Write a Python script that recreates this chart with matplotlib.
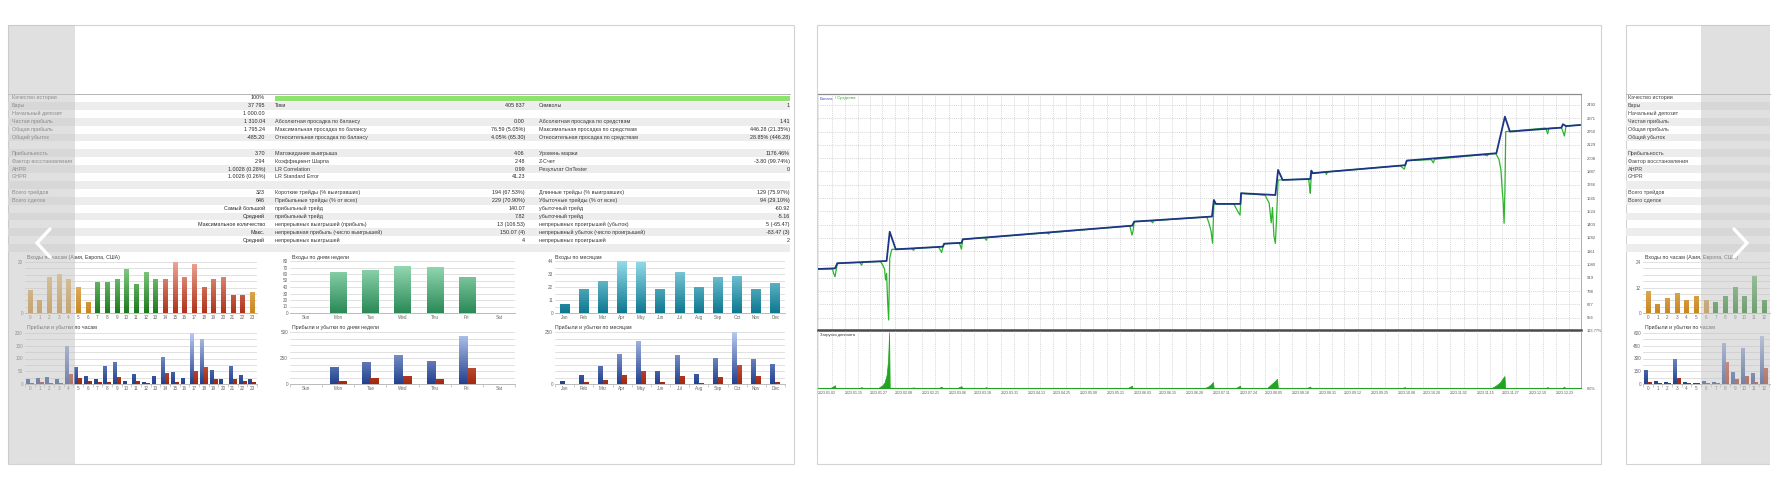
import datetime as dt
import numpy as np
import matplotlib.pyplot as plt
from matplotlib.colors import LinearSegmentedColormap
from matplotlib.patches import Rectangle

plt.rcParams['font.family'] = ['Liberation Sans', 'DejaVu Sans']

# ---------------- data ----------------
rows_a_labels = ['Качество истории', 'Бары', 'Начальный депозит', 'Чистая прибыль', 'Общая прибыль',
                 'Общий убыток', '', 'Прибыльность', 'Фактор восстановления', 'AHPR', 'GHPR', '',
                 'Всего трейдов', 'Всего сделок', '', '', '', '', '', '']
rows_a_values = ['100%', '37 795', '1 000.00', '1 310.04', '1 795.24', '-485.20', '', '3.70', '2.94',
                 '1.0028 (0.28%)', '1.0026 (0.26%)', '', '323', '646', 'Самый большой', 'Средний',
                 'Максимальное количество', 'Макс.', 'Средний', '']
rows_b_labels = ['', 'Тики', '', 'Абсолютная просадка по балансу', 'Максимальная просадка по балансу',
                 'Относительная просадка по балансу', '', 'Матожидание выигрыша', 'Коэффициент Шарпа',
                 'LR Correlation', 'LR Standard Error', '', 'Короткие трейды (% выигравших)',
                 'Прибыльные трейды (% от всех)', 'прибыльный трейд', 'прибыльный трейд',
                 'непрерывных выигрышей (прибыль)', 'непрерывная прибыль (число выигрышей)',
                 'непрерывных выигрышей', '']
rows_b_values = ['', '405 837', '', '0.00', '76.59 (5.05%)', '4.05% (65.30)', '', '4.06', '2.48', '0.99',
                 '41.23', '', '194 (67.53%)', '229 (70.90%)', '140.07', '7.82', '13 (106.53)',
                 '150.07 (4)', '4', '']
rows_c_labels = ['', 'Символы', '', 'Абсолютная просадка по средствам', 'Максимальная просадка по средствам',
                 'Относительная просадка по средствам', '', 'Уровень маржи', 'Z-Счет', 'Результат OnTester',
                 '', '', 'Длинные трейды (% выигравших)', 'Убыточные трейды (% от всех)', 'убыточный трейд',
                 'убыточный трейд', 'непрерывных проигрышей (убыток)', 'непрерывный убыток (число проигрышей)',
                 'непрерывных проигрышей', '']
rows_c_values = ['', '1', '', '1.41', '446.28 (21.35%)', '28.85% (446.28)', '', '1176.46%', '-3.80 (99.74%)',
                 '0', '', '', '129 (75.97%)', '94 (29.10%)', '-60.92', '-5.16', '5 (-65.47)', '-83.47 (3)',
                 '2', '']

hours = list(range(24))
hour_entries = [9, 5, 14, 15, 13, 10, 4, 12, 12, 13, 17, 11, 16, 13, 13, 20, 14, 19, 10, 13, 14, 7, 7, 8]
hour_session = ['asia'] * 7 + ['europe'] * 7 + ['america'] * 9 + ['asia']
hour_profit = [16, 22, 26, 18, 148, 66, 29, 18, 70, 83, 10, 39, 7, 29, 104, 47, 23, 200, 173, 51, 18, 68, 34, 17]
hour_loss = [1, 4, 1, 2, 39, 23, 10, 5, 5, 25, 0, 8, 3, 0, 42, 5, 0, 49, 64, 19, 0, 19, 8, 5]

weekdays = ['Sun', 'Mon', 'Tue', 'Wed', 'Thu', 'Fri', 'Sat']
weekday_entries = [0, 62, 65, 72, 70, 54, 0]
weekday_profit = [0, 161, 206, 277, 213, 455, 0]
weekday_loss = [0, 26, 52, 74, 39, 145, 0]

months = ['Jan', 'Feb', 'Mar', 'Apr', 'May', 'Jun', 'Jul', 'Aug', 'Sep', 'Oct', 'Nov', 'Dec']
month_entries = [7, 20, 27, 44, 43, 20, 34, 22, 30, 31, 20, 25]
month_profit = [13, 39, 84, 144, 206, 61, 139, 48, 121, 250, 116, 94]
month_loss = [0, 8, 16, 39, 60, 8, 34, 1, 31, 87, 37, 8]

# third (partly hidden) report
hours3 = list(range(13))
hour3_entries = [10, 4, 7, 9, 6, 8, 6, 5, 8, 12, 8, 17, 6]
hour3_session = ['asia'] * 7 + ['europe'] * 6
hour3_profit = [157, 27, 12, 294, 20, 8, 24, 12, 478, 133, 423, 125, 557]
hour3_loss = [20, 8, 4, 59, 2, 1, 1, 1, 255, 51, 86, 20, 188]

# balance / equity curve (x = days since 2023.01.02)
bal_day = [0, 8.2, 9.3, 33.0, 34.5, 37.4, 60.1, 60.7, 69.1, 69.6, 151.1, 152.1, 189.5, 190.4, 191.4,
           203.2, 203.5, 220.0, 221.3, 223.5, 236.8, 237.3, 237.9, 244.6, 282.4, 283.2, 326.3, 330.4,
           332.8, 357.6, 358.3, 359.8, 366.5]
bal_val = [1000, 1006, 1052, 1073, 1339, 1179, 1203, 1230, 1238, 1270, 1394, 1431, 1477, 1628, 1592,
           1592, 1689, 1673, 1901, 1810, 1819, 1895, 1871, 1883, 1944, 1986, 2053, 2386, 2250, 2286,
           2317, 2300, 2310]
eq_day = [0, 7, 7.5, 8.2, 9.3, 20, 21, 21.5, 30, 31, 32, 32.5, 33, 33.5, 34, 34.5, 35.5, 45, 46, 46.5,
          58, 59.5, 60.1, 60.7, 68, 69, 69.6, 80, 81, 81.5, 110, 111, 111.5, 150, 151, 151.5, 152.1,
          160, 161, 161.5, 187, 188, 189, 189.8, 190.4, 200, 202, 203, 203.5, 215, 217, 218, 218.6,
          219.3, 220, 220.6, 221.3, 236, 236.5, 236.8, 237.3, 244, 244.6, 245, 280, 282, 283.2, 295,
          296, 296.5, 320, 322, 322.5, 326, 327.5, 328.5, 329, 329.6, 330, 330.4, 330.8, 350, 351,
          351.5, 357.6, 358.3, 359, 359.8, 366.5]
eq_val = [1000, 1000, 960, 930, 1052, 1060, 1035, 1062, 1068, 1040, 1000, 900, 960, 700, 536, 1100,
          1179, 1185, 1170, 1188, 1200, 1150, 1203, 1230, 1237, 1180, 1270, 1285, 1262, 1286, 1330,
          1318, 1331, 1392, 1309, 1340, 1431, 1440, 1420, 1441, 1474, 1420, 1350, 1234, 1592, 1592,
          1520, 1491, 1689, 1672, 1600, 1420, 1560, 1300, 1234, 1480, 1810, 1818, 1740, 1689, 1871,
          1882, 1860, 1884, 1940, 1908, 1986, 1995, 1965, 1998, 2040, 2030, 2045, 2050, 2000, 1900,
          1749, 1600, 1416, 1700, 2250, 2282, 2229, 2280, 2286, 2250, 2210, 2300, 2310]
dd_day = [0, 6, 7.5, 8.2, 8.4, 20, 21, 21.3, 29, 30, 31, 32, 33, 33.7, 34.2, 34.5, 45, 46, 46.3, 58,
          59.5, 59.8, 67, 69, 69.3, 80, 81, 81.3, 149, 151, 151.3, 186, 188, 189, 190, 190.3, 201, 203,
          203.3, 216, 218, 219.5, 220.8, 221.2, 235, 236.8, 237, 281, 282.3, 282.6, 324, 326, 328,
          329.5, 330.2, 330.5, 350, 351, 351.3, 358, 359, 359.3, 367]
dd_val = [0, 0, 4, 6, 0, 0, 2, 0, 0, 3, 6, 12, 28, 60, 121, 0, 0, 1.5, 0, 0, 3, 0, 0, 4, 0, 0, 2, 0,
          0, 5, 0, 0, 4, 8, 13, 0, 0, 5, 0, 0, 8, 14, 20, 0, 0, 3, 0, 0, 2, 0, 0, 5, 12, 22, 26, 0,
          0, 2, 0, 0, 3, 0, 0]
date_labels = ['2023.01.02', '2023.01.15', '2023.01.27', '2023.02.08', '2023.02.21', '2023.03.06',
               '2023.03.18', '2023.03.31', '2023.04.13', '2023.04.25', '2023.05.08', '2023.05.21',
               '2023.06.03', '2023.06.15', '2023.06.28', '2023.07.11', '2023.07.24', '2023.08.05',
               '2023.08.18', '2023.08.31', '2023.09.12', '2023.09.25', '2023.10.08', '2023.10.20',
               '2023.11.02', '2023.11.15', '2023.11.27', '2023.12.10', '2023.12.23']

# ---------------- figure helpers ----------------
W, H = 1791, 493
fig = plt.figure(figsize=(W / 100, H / 100), dpi=100, facecolor='white')


def px_axes(x0, y0, x1, y1, z=1):
    ax = fig.add_axes([x0 / W, 1 - y1 / H, (x1 - x0) / W, (y1 - y0) / H], zorder=z)
    ax.set_facecolor('none')
    return ax


bg = fig.add_axes([0, 0, 1, 1], zorder=0)
bg.set_xlim(0, W)
bg.set_ylim(H, 0)
bg.axis('off')

GRAD = {
    'asia': ('#f4d296', '#c9871f'),
    'europe': ('#93d493', '#1d7b1d'),
    'america': ('#eca593', '#b0321a'),
    'week': ('#9fdfba', '#2a8a57'),
    'month': ('#93dbe9', '#0e7890'),
    'profit': ('#b8c9ef', '#22418e'),
    'loss': ('#f29a7c', '#a3280f'),
}


def grad_bars(ax, x, h, width, kinds, ymax):
    bars = ax.bar(x, h, width, color='none', linewidth=0)
    for b, kind in zip(bars, kinds):
        bh = b.get_height()
        if bh <= 0:
            continue
        top, bot = GRAD[kind]
        cmap = LinearSegmentedColormap.from_list(kind, [bot, top])
        g = np.linspace(0, bh / ymax, 64)[:, None]
        ax.imshow(g, extent=(b.get_x(), b.get_x() + b.get_width(), 0, bh), origin='lower',
                  cmap=cmap, vmin=0, vmax=1, aspect='auto', zorder=2, interpolation='bilinear')


def style_bars(ax, n, ymax, labeled, step, xlabels, xmax=None, boundary_ticks=False):
    ax.set_xlim(-0.5, n - 0.5 if xmax is None else xmax)
    ax.set_ylim(0, ymax)
    ax.set_yticks(labeled)
    ax.set_yticks(np.arange(0, ymax + step / 2, step), minor=True)
    ax.set_xticks(range(len(xlabels)))
    ax.set_xticklabels(xlabels)
    ax.grid(axis='y', which='both', color='#dcdcdc', lw=0.6)
    ax.set_axisbelow(True)
    for s in ['top', 'right', 'left']:
        ax.spines[s].set_visible(False)
    ax.spines['bottom'].set_color('#b0b0b0')
    ax.spines['bottom'].set_linewidth(0.6)
    ax.tick_params(axis='both', which='both', length=0, labelsize=3.3, colors='#666666', pad=1.5)
    if boundary_ticks:
        ax.set_xticks(np.arange(-0.5, len(xlabels), 1), minor=True)
        ax.tick_params(axis='x', which='minor', length=2, color='#b8b8b8', width=0.5)


def draw_card(x0, x1, right_border=True):
    bg.add_patch(Rectangle((x0, 25), x1 - x0, 439, fc='white', ec='#d3d3d3', lw=0.8))
    if not right_border:
        bg.add_patch(Rectangle((x1 - 1, 24), 30, 442, fc='white', ec='none'))


ROW0, ROWH = 94, 7.9
FS = 3.9


def draw_rows(x0, x1, n):
    for i in range(n):
        if i % 2:
            bg.add_patch(Rectangle((x0, ROW0 + ROWH * i), x1 - x0, ROWH, fc='#ededed', ec='none'))
    bg.plot([x0, x1], [ROW0, ROW0], color='#b5b5b5', lw=0.7)


def col_text(x, texts, ha, color='#3a3a3a'):
    for i, s in enumerate(texts):
        if s:
            bg.text(x, ROW0 + ROWH * (i + 0.5), s, fontsize=FS, ha=ha, va='center', color=color)


# ---------------- card 1: report tables + bar charts ----------------
draw_card(8, 794)
draw_rows(8, 790, 20)
bg.add_patch(Rectangle((275, 95.5), 515, 5.5, fc='#8ee36c', ec='none'))
col_text(12, rows_a_labels, 'left', '#555555')
col_text(265, rows_a_values, 'right', '#2a2a2a')
col_text(275, rows_b_labels, 'left')
col_text(525, rows_b_values, 'right', '#2a2a2a')
col_text(539, rows_c_labels, 'left')
col_text(790, rows_c_values, 'right', '#2a2a2a')

titles = [(27, 257, 'Входы по часам (Азия, Европа, США)'), (27, 328, 'Прибыли и убытки по часам'),
          (292, 257, 'Входы по дням недели'), (292, 328, 'Прибыли и убытки по дням недели'),
          (555, 257, 'Входы по месяцам'), (555, 328, 'Прибыли и убытки по месяцам'),
          (1645, 257, 'Входы по часам (Азия, Европа, США)'), (1645, 328, 'Прибыли и убытки по часам')]
for tx, ty, s in titles:
    bg.text(tx, ty, s, fontsize=3.8, ha='left', va='center', color='#3a3a3a')

x_h = np.array(hours)
ax = px_axes(25, 262, 257, 313)
grad_bars(ax, x_h, hour_entries, 0.45, hour_session, 20)
style_bars(ax, 24, 20, [0, 20], 2.5, [str(h) for h in hours])

ax = px_axes(25, 333, 257, 384)
grad_bars(ax, x_h - 0.19, hour_profit, 0.38, ['profit'] * 24, 200)
grad_bars(ax, x_h + 0.19, hour_loss, 0.38, ['loss'] * 24, 200)
style_bars(ax, 24, 200, [0, 50, 100, 150, 200], 25, [str(h) for h in hours], boundary_ticks=True)

x_w = np.arange(len(weekdays))
ax = px_axes(290, 261, 515, 313)
grad_bars(ax, x_w, weekday_entries, 0.5, ['week'] * 7, 80)
style_bars(ax, 7, 80, range(0, 81, 10), 10, weekdays)

ax = px_axes(290, 332, 515, 384)
grad_bars(ax, x_w - 0.125, weekday_profit, 0.25, ['profit'] * 7, 500)
grad_bars(ax, x_w + 0.125, weekday_loss, 0.25, ['loss'] * 7, 500)
style_bars(ax, 7, 500, [0, 250, 500], 62.5, weekdays, boundary_ticks=True)

x_m = np.arange(len(months))
ax = px_axes(555, 261, 785, 313)
grad_bars(ax, x_m, month_entries, 0.52, ['month'] * 12, 44)
style_bars(ax, 12, 44, [0, 11, 22, 33, 44], 5.5, months)

ax = px_axes(555, 332, 785, 384)
grad_bars(ax, x_m - 0.13, month_profit, 0.26, ['profit'] * 12, 250)
grad_bars(ax, x_m + 0.13, month_loss, 0.26, ['loss'] * 12, 250)
style_bars(ax, 12, 250, [0, 250], 31.25, months, boundary_ticks=True)

# ---------------- card 2: balance / equity chart ----------------
draw_card(817, 1601)
start = dt.date(2023, 1, 2)
date_pos = [(dt.date(*map(int, s.split('.'))) - start).days for s in date_labels]
mid_pos = [(a + b) / 2 for a, b in zip(date_pos[:-1], date_pos[1:])] + [date_pos[-1] + 6.4]

ax_eq = px_axes(818, 94, 1581, 330)
ax_eq.plot(eq_day, eq_val, color='#2bb52b', lw=0.9, zorder=3)
ax_eq.plot(bal_day, bal_val, color='#1d3585', lw=1.3, zorder=4)
ax_eq.set_xlim(0, 367)
ax_eq.set_ylim(445, 2592)
ax_eq.set_yticks(np.arange(556, 2500, 121))
ax_eq.yaxis.tick_right()
ax_eq.set_xticks(date_pos)
ax_eq.set_xticks(mid_pos, minor=True)
ax_eq.set_xticklabels([])
ax_eq.grid(which='both', color='#c9c9c9', lw=0.5, linestyle=(0, (1.5, 1.5)))
ax_eq.tick_params(axis='both', which='both', length=0, labelsize=3.0, colors='#555555', pad=4)
ax_eq.spines['left'].set_visible(False)
ax_eq.spines['top'].set_color('#8c8c8c')
ax_eq.spines['top'].set_linewidth(0.9)
ax_eq.spines['right'].set_color('#a0a0a0')
ax_eq.spines['right'].set_linewidth(0.6)
ax_eq.spines['bottom'].set_color('#4a4a4a')
ax_eq.spines['bottom'].set_linewidth(1.8)
bg.text(820, 98.5, 'Баланс', fontsize=3.0, color='#3b4fc4', ha='left', va='center')
bg.text(835, 98.5, '/ Средства', fontsize=3.0, color='#2aa82a', ha='left', va='center')

ax_dd = px_axes(818, 331, 1581, 388)
ax_dd.fill_between(dd_day, dd_val, 0, color='#1fa51f', lw=0.5, zorder=3)
ax_dd.set_xlim(0, 367)
ax_dd.set_ylim(0, 123.77)
ax_dd.yaxis.tick_right()
ax_dd.set_yticks([0, 123.77])
ax_dd.set_yticklabels(['0.0%', '123.77%'])
ax_dd.set_xticks(date_pos)
ax_dd.set_xticks(mid_pos, minor=True)
ax_dd.set_xticklabels(date_labels, ha='left')
ax_dd.grid(axis='x', which='both', color='#c9c9c9', lw=0.5, linestyle=(0, (1.5, 1.5)))
ax_dd.tick_params(axis='both', which='both', length=0, labelsize=2.6, colors='#555555', pad=2)
ax_dd.tick_params(axis='y', pad=4, labelsize=2.8)
ax_dd.spines['left'].set_visible(False)
ax_dd.spines['top'].set_visible(False)
ax_dd.spines['right'].set_color('#a0a0a0')
ax_dd.spines['right'].set_linewidth(0.6)
ax_dd.spines['bottom'].set_color('#666666')
ax_dd.spines['bottom'].set_linewidth(0.8)
bg.text(820, 335, 'Загрузка депозита', fontsize=3.0, color='#333333', ha='left', va='center')

# ---------------- card 3: next report, cut off by the viewport ----------------
draw_card(1626, 1771, right_border=False)
draw_rows(1626, 1770, 20)
col_text(1628, rows_a_labels, 'left', '#444444')

x_h3 = np.array(hours3)
ax = px_axes(1643, 262, 1770, 313)
grad_bars(ax, x_h3, hour3_entries, 0.45, hour3_session, 24)
style_bars(ax, 13, 24, [0, 12, 24], 3, [str(h) for h in hours3], xmax=12.63)

ax = px_axes(1643, 333, 1770, 384)
grad_bars(ax, x_h3 - 0.19, hour3_profit, 0.38, ['profit'] * 13, 600)
grad_bars(ax, x_h3 + 0.19, hour3_loss, 0.38, ['loss'] * 13, 600)
style_bars(ax, 13, 600, [0, 150, 300, 450, 600], 75, [str(h) for h in hours3], xmax=12.63,
           boundary_ticks=True)

# ---------------- carousel overlays ----------------
ov = fig.add_axes([0, 0, 1, 1], zorder=10)
ov.set_xlim(0, W)
ov.set_ylim(H, 0)
ov.axis('off')
ov.add_patch(Rectangle((8, 25), 67, 439, fc='#c2c2c2', alpha=0.5, ec='none'))
ov.add_patch(Rectangle((1701, 25), 69, 439, fc='#c2c2c2', alpha=0.5, ec='none'))
ov.plot([50, 37, 50], [229, 243, 257], color='white', lw=2.4, solid_capstyle='round', solid_joinstyle='miter')
ov.plot([1734, 1747, 1734], [229, 243, 257], color='white', lw=2.4, solid_capstyle='round', solid_joinstyle='miter')

fig.savefig('out.png', dpi=100, facecolor='white')
